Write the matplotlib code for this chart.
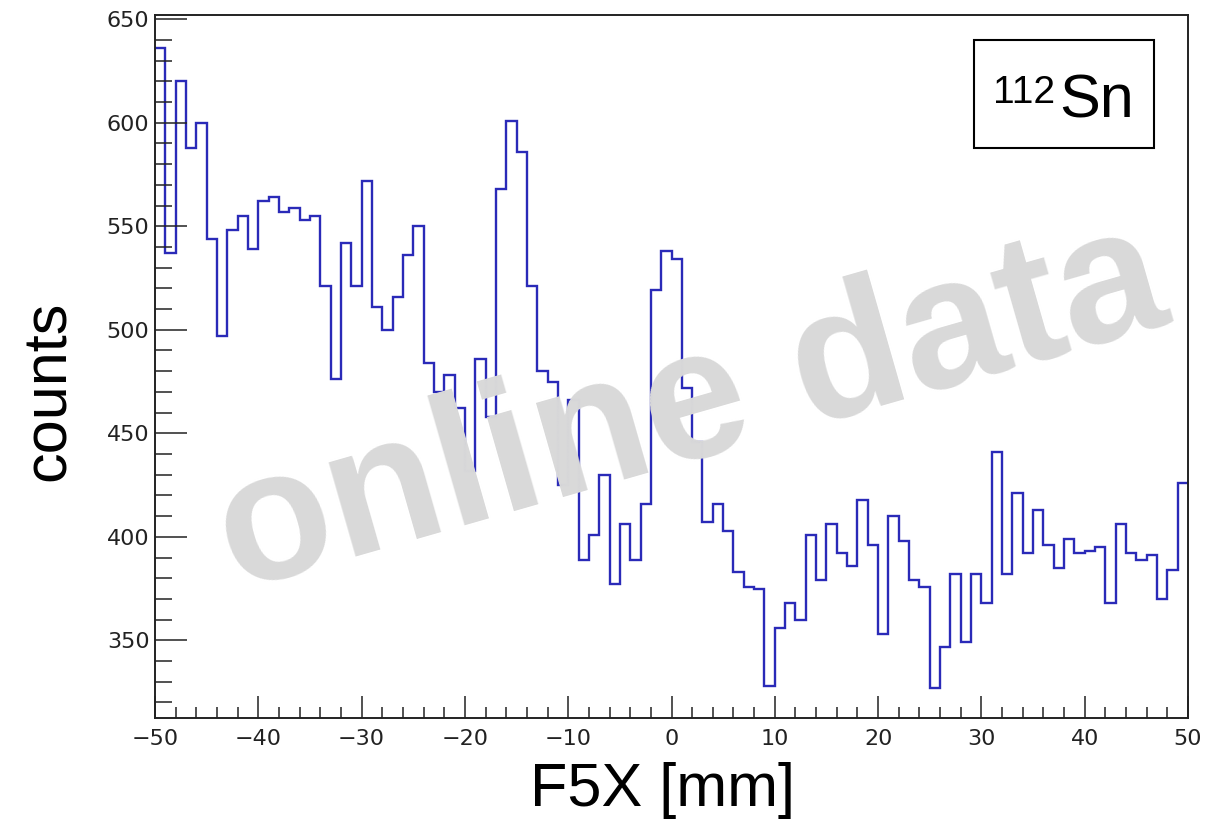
import numpy as np
import matplotlib
matplotlib.use('Agg')
import matplotlib.pyplot as plt
from matplotlib.patches import Rectangle
from matplotlib.ticker import MultipleLocator

plt.rcParams['font.family'] = ['Liberation Sans', 'DejaVu Sans']

# Histogram range and bin contents (1 mm bins from -50 to 50)
x_min, x_max = -50, 50
y_min, y_max = 312.5, 652

counts = [
    636, 537, 620, 588, 600, 544, 497, 548, 555, 539,   # -50 .. -41
    562, 564, 557, 559, 553, 555, 521, 476, 542, 521,   # -40 .. -31
    572, 511, 500, 516, 536, 550, 484, 470, 478, 462,   # -30 .. -21
    432, 486, 458, 568, 601, 586, 521, 480, 475, 425,   # -20 .. -11
    466, 389, 401, 430, 377, 406, 389, 416, 519, 538,   # -10 .. -1
    534, 472, 446, 407, 416, 403, 383, 376, 375, 328,   #   0 .. 9
    356, 368, 360, 401, 379, 406, 392, 386, 418, 396,   #  10 .. 19
    353, 410, 398, 379, 376, 327, 347, 382, 349, 382,   #  20 .. 29
    368, 441, 382, 421, 392, 413, 396, 385, 399, 392,   #  30 .. 39
    393, 395, 368, 406, 392, 389, 391, 370, 384, 426,   #  40 .. 49
]
edges = np.linspace(x_min, x_max, len(counts) + 1)

x_label = 'F5X [mm]'
y_label = 'counts'
isotope_mass = '112'
isotope_name = 'Sn'
watermark = 'online data'

W, H = 1209, 819
fig = plt.figure(figsize=(W / 100, H / 100), dpi=100)
ax = fig.add_axes([155 / W, 1 - 718 / H, (1188 - 155) / W, (718 - 15) / H])

# Step histogram
ax.stairs(counts, edges, baseline=None, color='#2a2ab8', linewidth=1.7)

ax.set_xlim(x_min, x_max)
ax.set_ylim(y_min, y_max)

# ROOT-like ticks
ax.xaxis.set_major_locator(MultipleLocator(10))
ax.xaxis.set_minor_locator(MultipleLocator(2))
ax.yaxis.set_major_locator(MultipleLocator(50))
ax.yaxis.set_minor_locator(MultipleLocator(10))
ax.tick_params(axis='both', which='both', direction='in', width=1.1, color='#222222')
ax.tick_params(axis='x', which='major', length=16, pad=8, labelsize=16)
ax.tick_params(axis='x', which='minor', length=8)
ax.tick_params(axis='y', which='major', length=23, pad=4, labelsize=16)
ax.tick_params(axis='y', which='minor', length=12)
for lab in ax.get_xticklabels() + ax.get_yticklabels():
    lab.set_family('DejaVu Sans')
    lab.set_color('#222222')
for spine in ax.spines.values():
    spine.set_linewidth(1.4)
    spine.set_color('#222222')

# Axis titles
fig.text(663 / W, 1 - 806 / H, x_label, fontsize=44, ha='center', va='baseline')
fig.text(49 / W, 1 - 391 / H, y_label, fontsize=44, rotation=90, ha='center', va='center')

# Isotope box
fig.patches.append(Rectangle((974 / W, 1 - 148 / H), (1154 - 974) / W, (148 - 40) / H,
                             transform=fig.transFigure, fill=False, edgecolor='black',
                             linewidth=1.5, zorder=5))
fig.text(993 / W, 1 - 103 / H, isotope_mass, fontsize=28, ha='left', va='baseline', zorder=6)
fig.text(1059 / W, 1 - 118 / H, isotope_name, fontsize=44, ha='left', va='baseline', zorder=6)

# Watermark on top of everything
fig.text(691 / W, 1 - 410 / H, watermark, fontsize=133, fontweight='bold', color='#d9d9d9',
         rotation=16, ha='center', va='center', zorder=10)

fig.savefig('out.png', dpi=100)
